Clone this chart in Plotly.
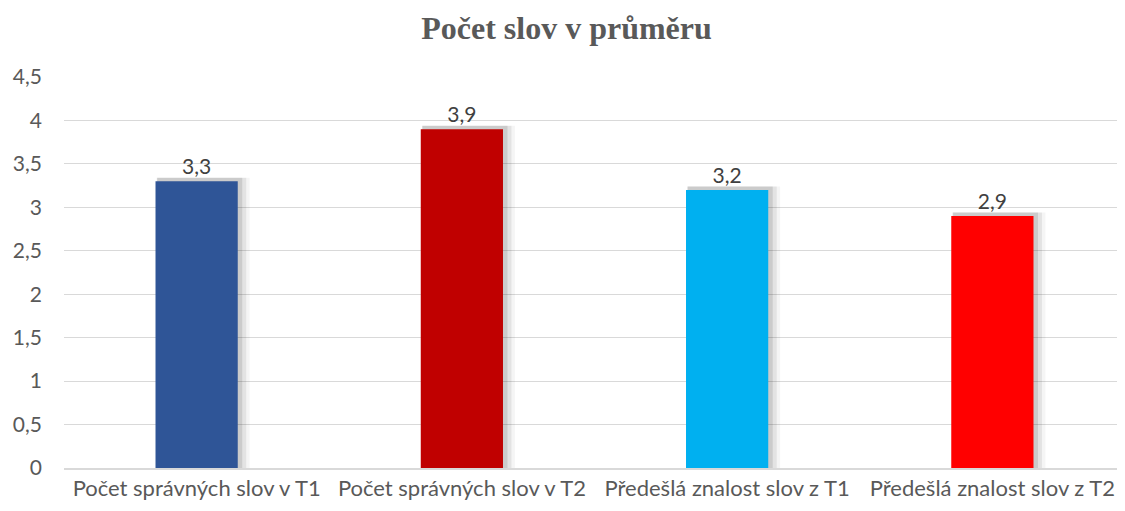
import plotly.graph_objects as go

categories = ["Počet správných slov v T1", "Počet správných slov v T2",
              "Předešlá znalost slov z T1", "Předešlá znalost slov z T2"]
values = [3.3, 3.9, 3.2, 2.9]
colors = ["#2F5597", "#C00000", "#00B0F0", "#FF0000"]
labels = ["3,3", "3,9", "3,2", "2,9"]
y_ticks = [0, 0.5, 1, 1.5, 2, 2.5, 3, 3.5, 4, 4.5]
y_ticktext = ["0", "0,5", "1", "1,5", "2", "2,5", "3", "3,5", "4", "4,5"]

FONT = "Lato, Open Sans, sans-serif"

fig = go.Figure()
# soft shadow layers
for w, off, a in [(0.35, -0.150, 0.04), (0.335, -0.148, 0.07), (0.322, -0.150, 0.10)]:
    fig.add_trace(go.Bar(
        x=categories, y=[v + 0.04 for v in values], width=w, offset=off,
        marker=dict(color=f"rgba(0,0,0,{a})", line=dict(width=0)),
        hoverinfo="skip", showlegend=False))
fig.add_trace(go.Bar(
    x=categories, y=values, width=0.31,
    marker=dict(color=colors, line=dict(width=0)),
    text=labels, textposition="outside", cliponaxis=False,
    textfont=dict(family=FONT, size=21, color="#404040"),
    showlegend=False))

W, H = 1117, 503
fig.update_layout(
    width=W, height=H,
    barmode="overlay",
    paper_bgcolor="white", plot_bgcolor="white",
    margin=dict(l=56, r=0, t=69, b=43),
    title=dict(text="<b>Počet slov v průměru</b>", x=0.5, xanchor="center", y=1 - 20 / H, yanchor="middle",
               font=dict(family="Liberation Serif, serif", size=32, color="#595959")),
    font=dict(family=FONT, size=22, color="#595959"),
    xaxis=dict(showgrid=False, showline=True, linecolor="#d9d9d9", linewidth=1.5, ticks="",
               tickfont=dict(family=FONT, size=22, color="#595959")),
    yaxis=dict(range=[0, 4.5], tickvals=y_ticks, ticktext=y_ticktext, showgrid=True,
               gridcolor="#d9d9d9", gridwidth=1.2, zeroline=False, showline=False, ticks="",
               ticklabelstandoff=21, tickfont=dict(family=FONT, size=21, color="#595959")),
)
fig.write_html("out.html")
